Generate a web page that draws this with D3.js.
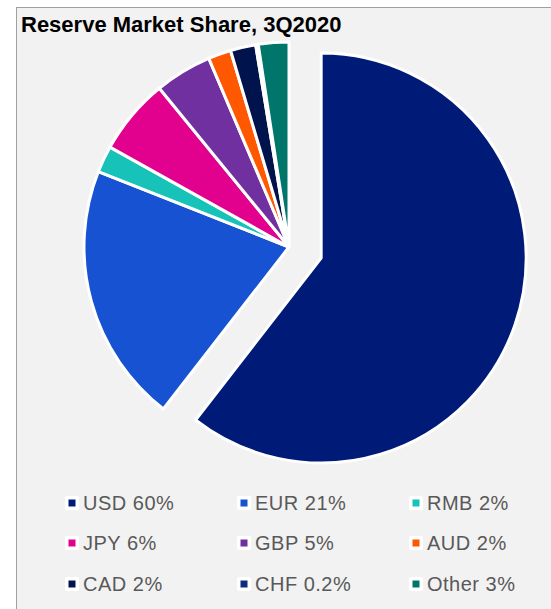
<!DOCTYPE html>
<html>
<head>
<meta charset="utf-8">
<script src="https://cdn.jsdelivr.net/npm/d3@7"></script>
<style>
  body { margin: 0; background: #fff; }
  svg { display: block; }
</style>
</head>
<body>
<div id="chart"></div>
<script>
// Data
const currencies = ['USD', 'EUR', 'RMB', 'JPY', 'GBP', 'AUD', 'CAD', 'CHF', 'Other'];
const shares = [60.5, 20.5, 2.1, 6.0, 4.5, 1.8, 2.0, 0.2, 2.4];
const legendLabels = ['USD 60%', 'EUR 21%', 'RMB 2%', 'JPY 6%', 'GBP 5%', 'AUD 2%', 'CAD 2%', 'CHF 0.2%', 'Other 3%'];
const colors = ['#001a78', '#1652d2', '#17c2b9', '#e2008f', '#7030a0', '#ff5800', '#00134c', '#0d2e80', '#00756a'];

const width = 551, height = 609;

const svg = d3.select('#chart')
  .append('svg')
    .attr('width', width)
    .attr('height', height);

// Chart area (grey panel, cut off at the right and bottom)
svg.append('rect')
  .attr('x', 16.5)
  .attr('y', 7.5)
  .attr('width', width)
  .attr('height', height)
  .attr('fill', '#f2f2f2')
  .attr('stroke', '#a0a0a0')
  .attr('stroke-width', 1);

svg.append('text')
  .attr('x', 21)
  .attr('y', 32)
  .attr('font-family', 'Liberation Sans, Arial, sans-serif')
  .attr('font-weight', 'bold')
  .attr('font-size', 22)
  .attr('fill', '#000')
  .text('Reserve Market Share, 3Q2020');

// Pie
const cx = 289, cy = 247, radius = 205, explode = 34;

const pie = d3.pie().sort(null).value(d => d);
const arcs = pie(shares);
const arc = d3.arc().innerRadius(0).outerRadius(radius);

const pieGroup = svg.append('g')
  .attr('transform', `translate(${cx},${cy})`);

pieGroup.selectAll('path')
  .data(arcs)
  .join('path')
    .attr('d', arc)
    .attr('fill', (d, i) => colors[i])
    .attr('stroke', '#fff')
    .attr('stroke-width', 3)
    .attr('stroke-linejoin', 'miter')
    .attr('transform', (d, i) => {
      if (i !== 0) return null;
      // USD slice pulled out along its mid angle
      const a = (d.startAngle + d.endAngle) / 2;
      return `translate(${Math.sin(a) * explode},${-Math.cos(a) * explode})`;
    });

// Legend, 3 columns
const colX = [72, 244, 416];
const rowY = [503, 543, 584];

const legend = svg.append('g')
  .selectAll('g')
  .data(legendLabels)
  .join('g')
    .attr('transform', (d, i) => `translate(${colX[i % 3]},${rowY[Math.floor(i / 3)]})`);

legend.append('rect')
  .attr('x', -7)
  .attr('y', -7)
  .attr('width', 14)
  .attr('height', 14)
  .attr('rx', 2)
  .attr('fill', '#fff');

legend.append('rect')
  .attr('x', -3.5)
  .attr('y', -3.5)
  .attr('width', 7)
  .attr('height', 7)
  .attr('fill', (d, i) => colors[i]);

legend.append('text')
  .attr('x', 11)
  .attr('y', 7)
  .attr('font-family', 'Liberation Sans, Arial, sans-serif')
  .attr('font-size', 20)
  .attr('letter-spacing', 0.5)
  .attr('fill', '#595959')
  .text(d => d);
</script>
</body>
</html>
